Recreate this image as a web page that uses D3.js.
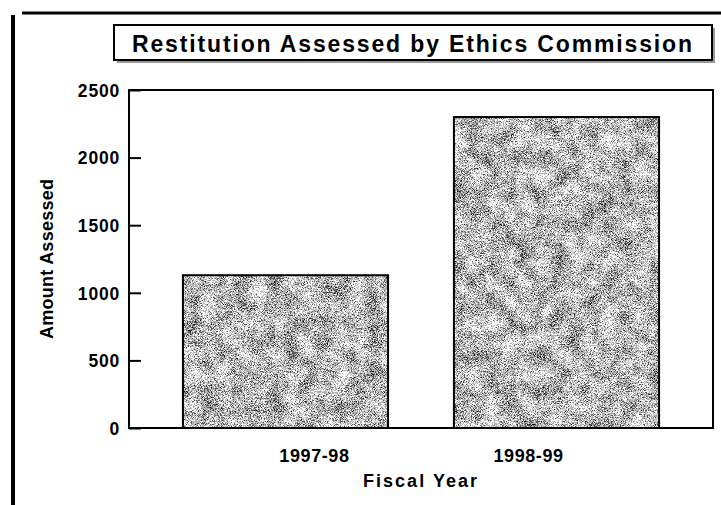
<!DOCTYPE html>
<html>
<head>
<meta charset="utf-8">
<title>Restitution Assessed by Ethics Commission</title>
<script src="https://d3js.org/d3.v7.min.js"></script>
<style>
body { margin: 0; background: #fff; }
svg text { font-family: "Liberation Sans", Arial, Helvetica, sans-serif; font-weight: bold; fill: #000; }
.axis .domain { display: none; }
.axis line { stroke: #000; stroke-width: 2px; }
</style>
</head>
<body>
<div id="chart"></div>
<script>
// data
var categories = ["1997-98", "1998-99"];
var amounts = [1130, 2300];
var yTicks = [0, 500, 1000, 1500, 2000, 2500];
var titleText = "Restitution Assessed by Ethics Commission";
var xTitle = "Fiscal Year";
var yTitle = "Amount Assessed";

var W = 721, H = 505;
var plot = {left: 129, right: 713, top: 90, bottom: 428};

var svg = d3.select("#chart").append("svg")
    .attr("width", W)
    .attr("height", H);

// grainy print texture for the bars
var defs = svg.append("defs");
var f = defs.append("filter").attr("id", "stipple")
    .attr("x", 0).attr("y", 0).attr("width", "100%").attr("height", "100%")
    .attr("color-interpolation-filters", "sRGB");
f.append("feTurbulence").attr("type", "fractalNoise").attr("baseFrequency", 1.3)
    .attr("numOctaves", 1).attr("seed", 7).attr("result", "fine0");
f.append("feColorMatrix").attr("in", "fine0").attr("type", "matrix")
    .attr("values", "1 0 0 0 0  0 1 0 0 0  0 0 1 0 0  0 0 0 0 1").attr("result", "fine");
f.append("feTurbulence").attr("type", "fractalNoise").attr("baseFrequency", 0.06)
    .attr("numOctaves", 2).attr("seed", 3).attr("result", "coarse0");
f.append("feColorMatrix").attr("in", "coarse0").attr("type", "matrix")
    .attr("values", "1 0 0 0 0  0 1 0 0 0  0 0 1 0 0  0 0 0 0 1").attr("result", "coarse");
f.append("feComposite").attr("in", "fine").attr("in2", "coarse").attr("operator", "arithmetic")
    .attr("k1", 0).attr("k2", 1.0).attr("k3", 0.35).attr("k4", -0.15).attr("result", "mix");
f.append("feColorMatrix").attr("in", "mix").attr("type", "matrix")
    .attr("values", "1 0 0 0 0  1 0 0 0 0  1 0 0 0 0  0 0 0 0 1").attr("result", "gray");
var ct = f.append("feComponentTransfer").attr("in", "gray").attr("result", "dots");
["feFuncR", "feFuncG", "feFuncB"].forEach(function(fn) {
  ct.append(fn).attr("type", "discrete").attr("tableValues", "0 0.05 0.35 0.7 0.95 1 1");
});
f.append("feComposite").attr("in", "dots").attr("in2", "SourceGraphic").attr("operator", "in");

// page frame lines (scan border)
svg.append("line").attr("x1", 13).attr("x2", 13).attr("y1", 15).attr("y2", H)
    .attr("stroke", "#000").attr("stroke-width", 4);
svg.append("line").attr("x1", 22).attr("x2", W).attr("y1", 13).attr("y2", 13)
    .attr("stroke", "#000").attr("stroke-width", 3);

// title box with shadow
svg.append("rect").attr("x", 117).attr("y", 28).attr("width", 598).attr("height", 35)
    .attr("fill", "#9a9a9a");
svg.append("rect").attr("x", 114).attr("y", 25).attr("width", 598).attr("height", 35)
    .attr("fill", "#fff").attr("stroke", "#000").attr("stroke-width", 2);
svg.append("text")
    .attr("x", 412).attr("y", 52)
    .attr("text-anchor", "middle")
    .attr("textLength", 560).attr("lengthAdjust", "spacing")
    .style("font-size", "23px")
    .text(titleText);

// scales
var x = d3.scaleBand()
    .domain(categories)
    .range([plot.left, plot.right])
    .paddingInner(0.243)
    .paddingOuter(0.199);
// the category labels are not centred under the bars in the original
var xLabel = d3.scalePoint()
    .domain(categories)
    .range([plot.left, plot.right])
    .padding(0.864);
var y = d3.scaleLinear()
    .domain([0, 2500])
    .range([plot.bottom, plot.top]);

// bars
var bars = svg.append("g");
bars.selectAll(".bar")
    .data(amounts)
  .enter().append("rect")
    .attr("class", "bar")
    .attr("x", function(d, i) { return x(categories[i]); })
    .attr("y", function(d) { return y(d); })
    .attr("width", x.bandwidth())
    .attr("height", function(d) { return y(0) - y(d); })
    .attr("fill", "#000")
    .attr("filter", "url(#stipple)");
bars.selectAll(".barline")
    .data(amounts)
  .enter().append("rect")
    .attr("class", "barline")
    .attr("x", function(d, i) { return x(categories[i]); })
    .attr("y", function(d) { return y(d); })
    .attr("width", x.bandwidth())
    .attr("height", function(d) { return y(0) - y(d); })
    .attr("fill", "none")
    .attr("stroke", "#000")
    .attr("stroke-width", 2);

// plot frame
svg.append("rect")
    .attr("x", plot.left).attr("y", plot.top)
    .attr("width", plot.right - plot.left).attr("height", plot.bottom - plot.top)
    .attr("fill", "none").attr("stroke", "#000").attr("stroke-width", 2);

// y axis, ticks pointing inward
var yAxis = svg.append("g")
    .attr("class", "axis")
    .attr("transform", "translate(" + plot.left + ",0)")
    .call(d3.axisLeft(y).tickValues(yTicks).tickSizeInner(-12).tickSizeOuter(0).tickPadding(9).tickFormat(d3.format("d")));
yAxis.selectAll("text")
    .style("font-size", "17.5px")
    .style("letter-spacing", "0.8px")
    .attr("dy", "0.36em");

// x labels
var xAxis = svg.append("g")
    .attr("class", "axis")
    .attr("transform", "translate(0," + plot.bottom + ")")
    .call(d3.axisBottom(xLabel).tickSize(0).tickPadding(0));
xAxis.selectAll("text")
    .attr("y", 34).attr("dy", 0)
    .style("font-size", "18px")
    .style("letter-spacing", "0.6px");

// axis titles
svg.append("text")
    .attr("x", 420).attr("y", 487)
    .attr("text-anchor", "middle")
    .attr("textLength", 114).attr("lengthAdjust", "spacing")
    .style("font-size", "18px")
    .text(xTitle);
svg.append("text")
    .attr("transform", "translate(53,259) rotate(-90)")
    .attr("text-anchor", "middle")
    .attr("textLength", 160).attr("lengthAdjust", "spacing")
    .style("font-size", "18px")
    .text(yTitle);
</script>
</body>
</html>
